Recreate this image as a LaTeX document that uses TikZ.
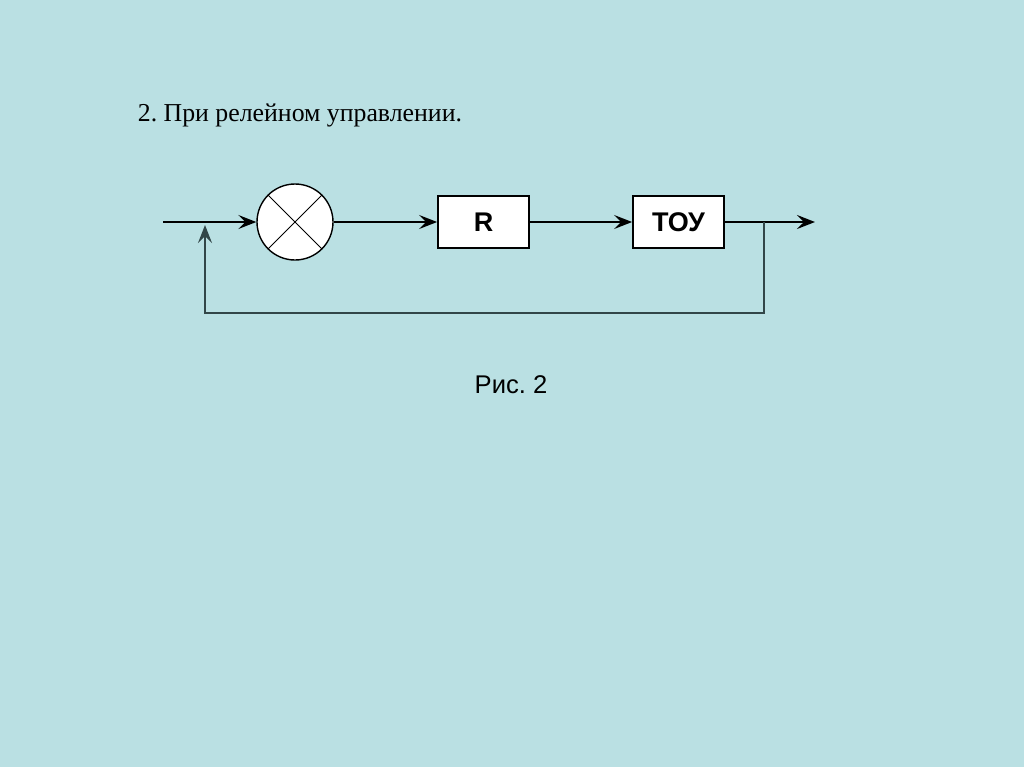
\documentclass[tikz,border=0pt]{standalone}
\usepackage{fontspec}
\setmainfont{Liberation Serif}
\setsansfont{Liberation Sans}
\usetikzlibrary{arrows.meta}
\definecolor{slidebg}{RGB}{186,224,227}
\definecolor{fbline}{RGB}{50,70,72}
\frenchspacing

\begin{document}
\begin{tikzpicture}[x=0.5pt, y=-0.5pt,
  >={Stealth[length=9pt,width=7pt,inset=3.5pt]},
  line width=0.9pt,
  sum/.style={circle,draw,fill=white,minimum size=38pt,inner sep=0pt,line width=0.7pt},
  blk/.style={rectangle,draw,fill=white,minimum width=45.5pt,minimum height=26pt,inner sep=0pt,
    font=\sffamily\bfseries\fontsize{13.5}{15}\selectfont},
  fb/.style={draw=fbline,line width=0.75pt}]
  \fill[slidebg] (0,0) rectangle (1024,767);
  \useasboundingbox (0,0) rectangle (1024,767);
  \node[anchor=base west,inner sep=0pt,font=\fontsize{12.9}{16}\selectfont] (title) at (137,121) {2. При релейном управлении.};
  \node[sum] (cmp) at (295,222) {};
  \draw[line width=0.5pt] (cmp.north west) -- (cmp.south east);
  \draw[line width=0.5pt] (cmp.north east) -- (cmp.south west);
  \node[blk] (relay) at (483.5,222) {R};
  \node[blk] (plant) at (678.5,222) {ТОУ};
  \coordinate (in) at (163,222);
  \coordinate (junc) at (205,222);
  \coordinate (tap) at (764,222);
  \coordinate (out) at (815,222);
  \coordinate (fbl) at (764,313);
  \draw (in) -- (junc);
  \draw[->] (junc) -- (cmp.west);
  \draw[->] (cmp.east) -- (relay.west);
  \draw[->] (relay.east) -- (plant.west);
  \draw[->] (plant.east) -- (out);
  \draw[fb,->] (tap) -- (fbl) -| ([yshift=-1.5]junc);
  \node[inner sep=0pt,font=\sffamily\fontsize{12.8}{14}\selectfont] (cap) at (511,385) {Рис. 2};
\end{tikzpicture}
\end{document}
